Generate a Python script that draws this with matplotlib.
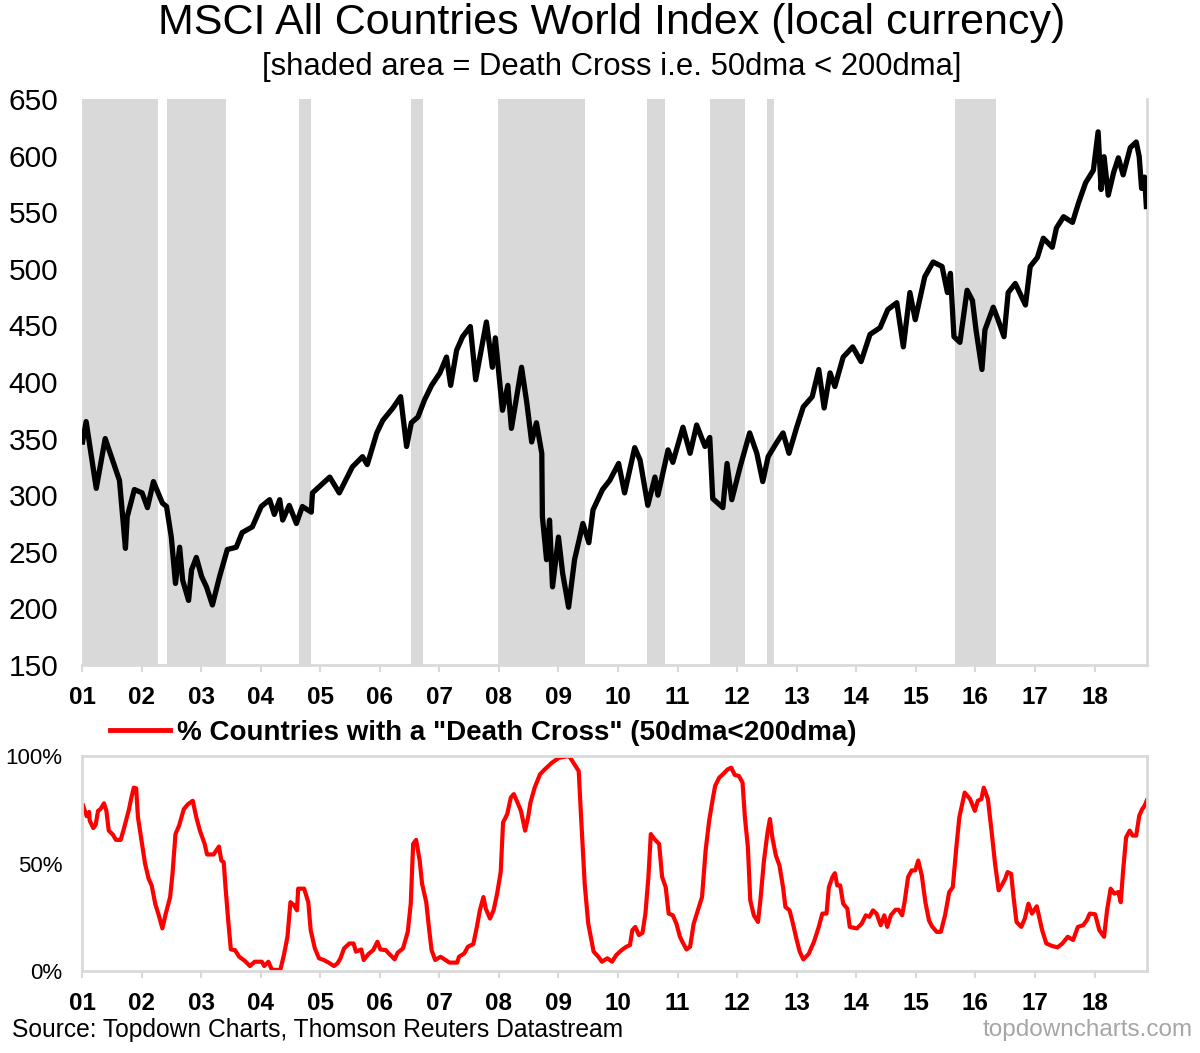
import matplotlib
matplotlib.use("Agg")
import matplotlib.pyplot as plt
import numpy as np

plt.rcParams["font.family"] = ["Liberation Sans", "DejaVu Sans"]

# MSCI ACWI (local currency): decimal year, index level
idx_t = [2001.01, 2001.07, 2001.24, 2001.39, 2001.63, 2001.73, 2001.76, 2001.88,
         2002.01, 2002.10, 2002.20, 2002.35, 2002.42, 2002.50, 2002.57, 2002.64,
         2002.69, 2002.79, 2002.84, 2002.92, 2003.01, 2003.09, 2003.19, 2003.31,
         2003.44, 2003.59, 2003.69, 2003.86, 2004.01, 2004.15, 2004.23, 2004.32,
         2004.37, 2004.48, 2004.60, 2004.70, 2004.85, 2004.87, 2005.16, 2005.32,
         2005.54, 2005.71, 2005.79, 2005.95, 2006.05, 2006.22, 2006.35, 2006.45,
         2006.53, 2006.64, 2006.75, 2006.87, 2007.01, 2007.12, 2007.19, 2007.29,
         2007.39, 2007.52, 2007.61, 2007.68, 2007.79, 2007.89, 2007.94, 2008.06,
         2008.15, 2008.21, 2008.38, 2008.47, 2008.55, 2008.63, 2008.72, 2008.73,
         2008.80, 2008.85, 2008.90, 2009.00, 2009.07, 2009.17, 2009.27, 2009.41,
         2009.51, 2009.58, 2009.74, 2009.86, 2010.01, 2010.11, 2010.28, 2010.37,
         2010.50, 2010.62, 2010.67, 2010.84, 2010.92, 2011.09, 2011.21, 2011.32,
         2011.46, 2011.54, 2011.59, 2011.76, 2011.83, 2011.91, 2012.05, 2012.21,
         2012.33, 2012.43, 2012.52, 2012.67, 2012.77, 2012.87, 2013.00, 2013.11,
         2013.26, 2013.37, 2013.46, 2013.56, 2013.64, 2013.78, 2013.94, 2014.08,
         2014.23, 2014.40, 2014.53, 2014.68, 2014.79, 2014.90, 2014.99, 2015.15,
         2015.29, 2015.44, 2015.53, 2015.58, 2015.64, 2015.74, 2015.86, 2015.95,
         2016.01, 2016.11, 2016.16, 2016.30, 2016.38, 2016.48, 2016.55, 2016.67,
         2016.84, 2016.92, 2017.04, 2017.14, 2017.29, 2017.36, 2017.48, 2017.63,
         2017.73, 2017.85, 2017.98, 2018.06, 2018.11, 2018.16, 2018.23, 2018.32,
         2018.40, 2018.48, 2018.60, 2018.70, 2018.75, 2018.79, 2018.84, 2018.87]
idx_v = [347, 365, 306, 350, 313, 253, 281, 305,
         302, 289, 312, 293, 290, 263, 222, 254,
         225, 207, 234, 245, 228, 219, 203, 228,
         252, 254, 267, 272, 290, 296, 283, 296,
         278, 291, 275, 290, 285, 302, 316, 302,
         325, 334, 327, 355, 366, 377, 387, 343,
         364, 369, 384, 397, 408, 422, 397, 428,
         440, 449, 402, 422, 453, 413, 439, 375,
         397, 359, 413, 381, 347, 364, 337, 281,
         243, 278, 219, 263, 231, 201, 243, 275,
         258, 287, 305, 313, 328, 302, 342, 331,
         291, 316, 300, 340, 329, 360, 337, 362,
         343, 351, 297, 289, 328, 296, 325, 355,
         337, 312, 334, 347, 355, 337, 360, 378,
         387, 411, 377, 408, 396, 422, 431, 418,
         442, 448, 464, 470, 431, 479, 455, 493,
         506, 502, 479, 496, 440, 435, 481, 472,
         446, 411, 446, 466, 455, 440, 479, 487,
         468, 502, 510, 527, 519, 536, 546, 541,
         558, 576, 587, 621, 570, 599, 565, 585,
         598, 583, 607, 612, 599, 571, 581, 555]

# death cross periods (50dma < 200dma) for the global index
dc_start = [2001.00, 2002.43, 2004.64, 2006.53, 2007.98, 2010.48, 2011.54, 2012.50, 2015.66]
dc_end = [2002.27, 2003.41, 2004.84, 2006.72, 2009.44, 2010.79, 2012.13, 2012.62, 2016.35]

# % of countries with a death cross
pct_t = [2001.02, 2001.08, 2001.12, 2001.13, 2001.19, 2001.23, 2001.27, 2001.31, 2001.37, 2001.41,
         2001.45, 2001.52, 2001.57, 2001.65, 2001.71, 2001.79, 2001.83, 2001.87, 2001.91, 2001.94,
         2002.00, 2002.06, 2002.12, 2002.17, 2002.23, 2002.29, 2002.35, 2002.40, 2002.48, 2002.52,
         2002.57, 2002.63, 2002.71, 2002.78, 2002.86, 2002.92, 2002.98, 2003.06, 2003.10, 2003.21,
         2003.30, 2003.34, 2003.38, 2003.41, 2003.46, 2003.50, 2003.57, 2003.64, 2003.73, 2003.82,
         2003.90, 2004.02, 2004.06, 2004.13, 2004.19, 2004.33, 2004.39, 2004.45, 2004.50, 2004.56,
         2004.61, 2004.63, 2004.73, 2004.80, 2004.84, 2004.91, 2004.98, 2005.06, 2005.14, 2005.23,
         2005.29, 2005.34, 2005.40, 2005.49, 2005.56, 2005.60, 2005.69, 2005.73, 2005.81, 2005.89,
         2005.96, 2006.01, 2006.10, 2006.15, 2006.25, 2006.30, 2006.39, 2006.47, 2006.52, 2006.56,
         2006.61, 2006.67, 2006.71, 2006.78, 2006.83, 2006.87, 2006.93, 2007.02, 2007.06, 2007.12,
         2007.17, 2007.30, 2007.33, 2007.42, 2007.48, 2007.57, 2007.63, 2007.68, 2007.74, 2007.78,
         2007.85, 2007.91, 2007.97, 2008.03, 2008.07, 2008.14, 2008.20, 2008.25, 2008.30, 2008.37,
         2008.44, 2008.49, 2008.53, 2008.60, 2008.69, 2008.77, 2008.89, 2009.01, 2009.18, 2009.27,
         2009.34, 2009.38, 2009.44, 2009.50, 2009.59, 2009.67, 2009.73, 2009.82, 2009.90, 2009.97,
         2010.06, 2010.14, 2010.20, 2010.24, 2010.29, 2010.35, 2010.41, 2010.46, 2010.51, 2010.55,
         2010.61, 2010.69, 2010.74, 2010.80, 2010.85, 2010.92, 2010.98, 2011.04, 2011.08, 2011.15,
         2011.21, 2011.27, 2011.35, 2011.41, 2011.47, 2011.53, 2011.59, 2011.63, 2011.70, 2011.76,
         2011.84, 2011.90, 2011.96, 2012.03, 2012.09, 2012.13, 2012.18, 2012.22, 2012.28, 2012.35,
         2012.39, 2012.45, 2012.51, 2012.55, 2012.59, 2012.65, 2012.71, 2012.77, 2012.81, 2012.88,
         2012.93, 2013.00, 2013.05, 2013.11, 2013.20, 2013.29, 2013.37, 2013.43, 2013.50, 2013.54,
         2013.60, 2013.64, 2013.68, 2013.73, 2013.78, 2013.85, 2013.89, 2014.01, 2014.09, 2014.16,
         2014.22, 2014.28, 2014.34, 2014.41, 2014.47, 2014.52, 2014.58, 2014.66, 2014.71, 2014.77,
         2014.81, 2014.87, 2014.93, 2014.99, 2015.04, 2015.10, 2015.16, 2015.22, 2015.27, 2015.35,
         2015.42, 2015.49, 2015.56, 2015.62, 2015.68, 2015.73, 2015.82, 2015.91, 2015.99, 2016.04,
         2016.10, 2016.14, 2016.21, 2016.27, 2016.33, 2016.39, 2016.44, 2016.50, 2016.54, 2016.60,
         2016.64, 2016.69, 2016.77, 2016.83, 2016.89, 2016.95, 2017.03, 2017.12, 2017.19, 2017.29,
         2017.38, 2017.46, 2017.55, 2017.64, 2017.72, 2017.81, 2017.87, 2017.92, 2018.01, 2018.08,
         2018.16, 2018.21, 2018.27, 2018.33, 2018.40, 2018.44, 2018.48, 2018.53, 2018.59, 2018.64,
         2018.70, 2018.75, 2018.80, 2018.84, 2018.88]
pct_v = [76.9, 72.0, 74.0, 70.0, 66.5, 68.0, 74.5, 75.3, 78.0, 74.5,
         65.3, 63.4, 61.0, 61.0, 66.8, 75.3, 80.7, 85.3, 85.0, 71.5,
         60.6, 49.8, 42.9, 39.8, 31.3, 25.9, 19.8, 25.9, 34.4, 45.2,
         63.7, 67.6, 75.3, 77.6, 79.2, 71.5, 65.3, 59.1, 54.2, 54.2,
         57.9, 51.4, 50.6, 39.0, 22.0, 10.0, 9.7, 6.6, 4.8, 2.3,
         4.3, 4.3, 2.3, 4.3, 0.5, 0.5, 7.4, 15.9, 32.0, 30.6,
         28.2, 38.3, 38.3, 32.0, 19.0, 10.5, 5.9, 5.1, 3.9, 2.3,
         3.5, 5.9, 10.5, 12.8, 12.8, 9.0, 10.0, 5.1, 7.9, 9.7,
         13.6, 10.0, 9.7, 8.2, 5.4, 8.5, 10.5, 18.2, 31.3, 59.1,
         61.0, 51.4, 40.6, 32.0, 19.0, 9.7, 5.1, 6.6, 5.9, 4.8,
         3.9, 3.9, 6.6, 8.2, 11.3, 12.5, 20.5, 28.2, 34.4, 29.0,
         24.4, 28.2, 36.0, 46.0, 69.1, 73.0, 80.7, 82.3, 79.2, 74.5,
         65.3, 71.5, 78.4, 85.3, 91.5, 93.8, 96.9, 99.2, 100.0, 96.1,
         93.0, 71.5, 40.6, 22.0, 9.0, 6.6, 4.3, 5.9, 4.3, 7.4,
         9.7, 11.3, 12.0, 19.0, 20.5, 16.7, 17.7, 26.7, 43.7, 63.7,
         61.4, 59.1, 43.7, 39.0, 26.7, 25.9, 22.0, 15.9, 13.6, 10.0,
         11.3, 22.0, 29.0, 34.4, 56.0, 69.9, 80.0, 86.1, 90.0, 91.5,
         93.8, 94.6, 91.2, 90.7, 87.7, 71.5, 57.6, 32.9, 25.9, 22.8,
         32.9, 51.4, 64.5, 70.7, 62.2, 53.7, 49.1, 39.0, 29.8, 28.2,
         22.8, 14.4, 9.0, 5.4, 7.9, 13.6, 20.5, 26.7, 26.7, 39.0,
         43.7, 45.5, 39.8, 39.8, 31.3, 29.0, 20.5, 19.8, 22.0, 25.9,
         25.2, 28.2, 26.7, 21.3, 25.9, 20.5, 25.9, 28.5, 28.5, 25.9,
         32.0, 43.7, 46.8, 46.8, 51.4, 44.4, 32.0, 23.6, 20.8, 18.2,
         18.2, 25.9, 36.7, 39.0, 57.6, 71.5, 83.0, 80.0, 74.5, 79.2,
         80.0, 85.3, 80.0, 65.3, 49.8, 37.5, 39.8, 42.9, 46.0, 45.2,
         34.4, 22.8, 20.5, 24.4, 31.3, 26.7, 30.1, 19.0, 12.8, 11.6,
         11.0, 12.8, 15.9, 14.4, 20.5, 21.3, 23.6, 26.7, 26.4, 19.0,
         15.9, 28.2, 38.3, 36.0, 36.7, 32.0, 46.8, 62.2, 65.3, 63.0,
         63.0, 72.2, 75.3, 76.9, 79.5]

years = list(range(2001, 2019))
year_labels = [f"{y % 100:02d}" for y in years]

SPINE = "#d9d9d9"
SHADE = "#d9d9d9"
XMIN, XMAX = 2001.0, 2018.88

fig = plt.figure(figsize=(12, 10.53), dpi=100)

# --- top panel: index with death-cross shading ---
ax = fig.add_axes([0.0683, 0.3685, 0.8875, 0.5375])
for s, e in zip(dc_start, dc_end):
    ax.axvspan(s, e, color=SHADE, lw=0, zorder=0)
ax.plot(idx_t, idx_v, color="black", lw=3.8, solid_joinstyle="round", zorder=3)

ax.set_xlim(XMIN, XMAX)
ax.set_ylim(150, 650)
ax.set_yticks(np.arange(150, 651, 50))
ax.tick_params(axis="y", length=0, pad=17, labelsize=21.5)
ax.set_xticks(years)
ax.set_xticklabels(year_labels, fontweight="bold")
ax.tick_params(axis="x", length=5, width=1.5, color=SPINE, pad=10, labelsize=17.5)
for side in ["left", "top"]:
    ax.spines[side].set_visible(False)
for side in ["bottom", "right"]:
    ax.spines[side].set_color(SPINE)
    ax.spines[side].set_linewidth(2)

fig.text(0.51, 0.978, "MSCI All Countries World Index (local currency)",
         ha="center", va="center", fontsize=31)
fig.text(0.51, 0.936, "[shaded area = Death Cross i.e. 50dma < 200dma]",
         ha="center", va="center", fontsize=22.3)

# --- bottom panel: % countries with death cross ---
ax2 = fig.add_axes([0.0683, 0.0779, 0.8875, 0.2041])
ax2.plot(pct_t, pct_v, color="#ff0000", lw=3.0, label='% Countries with a "Death Cross" (50dma<200dma)')
ax2.set_xlim(XMIN, XMAX)
ax2.set_ylim(0, 100)
ax2.set_yticks([0, 50, 100])
ax2.set_yticklabels(["0%", "50%", "100%"])
ax2.tick_params(axis="y", length=0, pad=14, labelsize=16)
ax2.set_xticks(years)
ax2.set_xticklabels(year_labels, fontweight="bold")
ax2.tick_params(axis="x", length=5, width=1.5, color=SPINE, pad=10, labelsize=17.5)
for side in ax2.spines:
    ax2.spines[side].set_color(SPINE)
    ax2.spines[side].set_linewidth(2)

leg = ax2.legend(loc="center left", bbox_to_anchor=(0.092, 0.304), bbox_transform=fig.transFigure,
                 frameon=False, borderpad=0, borderaxespad=0, handlelength=2.16, handletextpad=0.25,
                 prop={"weight": "bold", "size": 20})
leg.get_lines()[0].set_linewidth(3.5)

fig.text(0.01, 0.022, "Source: Topdown Charts, Thomson Reuters Datastream",
         ha="left", va="center", fontsize=17.7)
fig.text(0.994, 0.022, "topdowncharts.com", ha="right", va="center",
         fontsize=17.5, color="#a6a6a6")

fig.savefig("out.png", dpi=100)
